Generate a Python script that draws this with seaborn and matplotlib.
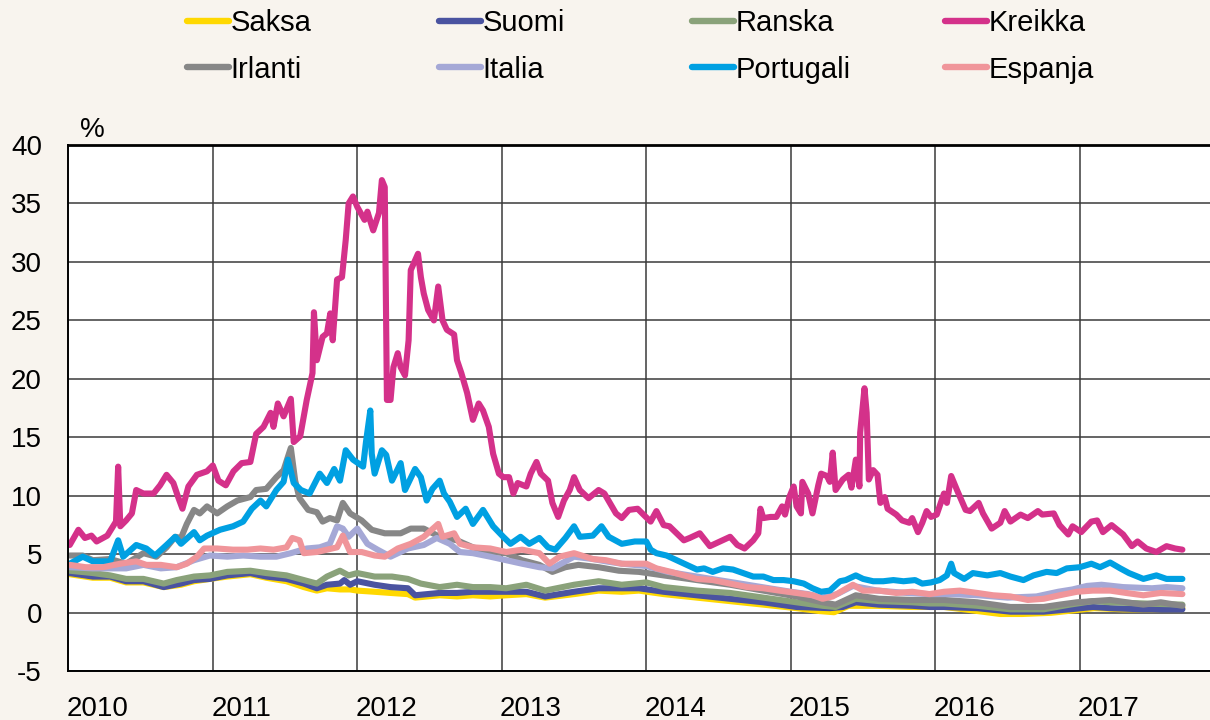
import pandas as pd
import matplotlib.pyplot as plt
import seaborn as sns
from matplotlib.lines import Line2D

# --- Configuration ---
sns.set_theme(style="white")
plt.rcParams['font.family'] = ['Liberation Sans', 'DejaVu Sans']
plt.rcParams.update({
    'axes.unicode_minus': False,
    'text.color': 'black',
    'xtick.color': 'black',
    'ytick.color': 'black',
})

BG = '#F8F4EE'
GRID = '#3a3a3a'

MAAT = ['Saksa', 'Suomi', 'Ranska', 'Kreikka', 'Irlanti', 'Italia', 'Portugali', 'Espanja']
VARIT = ['#FFD800', '#4A53A0', '#8AA27A', '#D4318A', '#878787', '#A5A8D6', '#00A0E2', '#F0959A']

# --- Data: 10-year government bond yields, % ---
saksa_t = [2010.01, 2010.17, 2010.29, 2010.40, 2010.52, 2010.66, 2010.78, 2010.87, 2010.98, 2011.10,
           2011.26, 2011.37, 2011.51, 2011.63, 2011.72, 2011.79, 2011.88, 2011.95, 2012.00, 2012.12,
           2012.23, 2012.35, 2012.40, 2012.57, 2012.69, 2012.80, 2012.92, 2013.03, 2013.17, 2013.30,
           2013.50, 2013.67, 2013.83, 2013.95, 2014.12, 2014.35, 2014.58, 2014.81, 2015.04, 2015.20,
           2015.30, 2015.40, 2015.60, 2015.84, 2015.96, 2016.06, 2016.20, 2016.45, 2016.60, 2016.80,
           2016.95, 2017.10, 2017.30, 2017.50, 2017.71]
saksa = [3.3, 3.0, 3.0, 2.6, 2.6, 2.2, 2.4, 2.7, 2.9, 3.1,
         3.3, 3.0, 2.7, 2.2, 1.9, 2.1, 2.0, 2.0, 1.9, 1.8,
         1.7, 1.6, 1.3, 1.5, 1.4, 1.5, 1.4, 1.5, 1.6, 1.3,
         1.6, 1.9, 1.8, 1.9, 1.6, 1.3, 1.0, 0.7, 0.4, 0.15,
         0.05, 0.6, 0.6, 0.5, 0.5, 0.5, 0.3, -0.1, -0.1, 0.0,
         0.2, 0.4, 0.3, 0.3, 0.4]

suomi_t = [2010.01, 2010.17, 2010.29, 2010.40, 2010.52, 2010.66, 2010.78, 2010.87, 2010.98, 2011.10,
           2011.26, 2011.37, 2011.51, 2011.63, 2011.72, 2011.79, 2011.88, 2011.91, 2011.95, 2012.00,
           2012.12, 2012.23, 2012.35, 2012.40, 2012.57, 2012.69, 2012.80, 2012.92, 2013.03, 2013.17,
           2013.30, 2013.50, 2013.67, 2013.95, 2014.12, 2014.35, 2014.58, 2014.81, 2015.04, 2015.27,
           2015.36, 2015.45, 2015.61, 2015.84, 2015.96, 2016.06, 2016.29, 2016.52, 2016.75, 2016.93,
           2017.09, 2017.21, 2017.44, 2017.71]
suomi = [3.4, 3.1, 3.1, 2.7, 2.7, 2.2, 2.5, 2.8, 2.9, 3.2,
         3.4, 3.1, 2.9, 2.5, 2.1, 2.4, 2.5, 2.8, 2.4, 2.7,
         2.4, 2.2, 2.1, 1.5, 1.7, 1.7, 1.8, 1.8, 1.8, 1.8,
         1.4, 1.8, 2.1, 2.1, 1.8, 1.5, 1.2, 0.9, 0.5, 0.4,
         0.5, 0.9, 0.7, 0.6, 0.5, 0.5, 0.4, 0.1, 0.1, 0.3,
         0.5, 0.4, 0.3, 0.3]

ranska_t = [2010.01, 2010.17, 2010.29, 2010.40, 2010.52, 2010.66, 2010.75, 2010.87, 2010.98, 2011.10,
            2011.26, 2011.37, 2011.51, 2011.63, 2011.72, 2011.79, 2011.88, 2011.94, 2012.00, 2012.12,
            2012.24, 2012.35, 2012.44, 2012.57, 2012.69, 2012.80, 2012.92, 2013.03, 2013.17, 2013.30,
            2013.50, 2013.67, 2013.83, 2014.00, 2014.12, 2014.35, 2014.58, 2014.81, 2015.04, 2015.22,
            2015.31, 2015.45, 2015.61, 2015.84, 2015.96, 2016.06, 2016.29, 2016.52, 2016.75, 2016.93,
            2017.09, 2017.21, 2017.44, 2017.71]
ranska = [3.6, 3.4, 3.2, 2.9, 2.9, 2.5, 2.8, 3.1, 3.2, 3.5,
          3.6, 3.4, 3.2, 2.8, 2.5, 3.1, 3.6, 3.2, 3.4, 3.1,
          3.1, 2.9, 2.5, 2.2, 2.4, 2.2, 2.2, 2.1, 2.4, 1.9,
          2.4, 2.7, 2.4, 2.6, 2.2, 1.9, 1.7, 1.3, 0.9, 0.6,
          0.5, 1.2, 1.0, 0.9, 0.8, 0.8, 0.6, 0.3, 0.3, 0.7,
          1.0, 0.9, 0.8, 0.7]

kreikka_t = [2010.01, 2010.07, 2010.115, 2010.16, 2010.196, 2010.27, 2010.33, 2010.345, 2010.36, 2010.40,
             2010.44, 2010.47, 2010.52, 2010.59, 2010.635, 2010.68, 2010.727, 2010.76, 2010.79, 2010.831,
             2010.89, 2010.96, 2011.00, 2011.039, 2011.09, 2011.143, 2011.20, 2011.26, 2011.30, 2011.351,
             2011.40, 2011.42, 2011.45, 2011.49, 2011.54, 2011.56, 2011.605, 2011.65, 2011.69, 2011.70,
             2011.72, 2011.76, 2011.79, 2011.813, 2011.83, 2011.86, 2011.894, 2011.92, 2011.94, 2011.97,
             2012.00, 2012.05, 2012.07, 2012.11, 2012.15, 2012.17, 2012.19, 2012.205, 2012.23, 2012.25,
             2012.28, 2012.30, 2012.33, 2012.355, 2012.37, 2012.42, 2012.44, 2012.46, 2012.49, 2012.53,
             2012.56, 2012.59, 2012.62, 2012.67, 2012.69, 2012.72, 2012.76, 2012.80, 2012.84, 2012.87,
             2012.91, 2012.94, 2012.98, 2013.01, 2013.05, 2013.08, 2013.11, 2013.17, 2013.20, 2013.24,
             2013.27, 2013.32, 2013.35, 2013.39, 2013.43, 2013.47, 2013.50, 2013.54, 2013.60, 2013.67,
             2013.71, 2013.79, 2013.83, 2013.88, 2013.94, 2013.98, 2014.03, 2014.07, 2014.12, 2014.16,
             2014.21, 2014.26, 2014.30, 2014.37, 2014.44, 2014.51, 2014.58, 2014.63, 2014.68, 2014.74,
             2014.775, 2014.79, 2014.81, 2014.86, 2014.90, 2014.94, 2014.96, 2014.99, 2015.02, 2015.04,
             2015.07, 2015.08, 2015.12, 2015.15, 2015.19, 2015.21, 2015.25, 2015.27, 2015.29, 2015.31,
             2015.36, 2015.40, 2015.42, 2015.45, 2015.475, 2015.48, 2015.51, 2015.525, 2015.54, 2015.57,
             2015.60, 2015.62, 2015.65, 2015.67, 2015.73, 2015.77, 2015.82, 2015.84, 2015.88, 2015.91,
             2015.94, 2015.97, 2016.01, 2016.06, 2016.08, 2016.11, 2016.15, 2016.21, 2016.24, 2016.30,
             2016.33, 2016.39, 2016.45, 2016.48, 2016.52, 2016.59, 2016.64, 2016.71, 2016.74, 2016.82,
             2016.86, 2016.92, 2016.95, 2017.01, 2017.08, 2017.12, 2017.16, 2017.22, 2017.30, 2017.36,
             2017.40, 2017.46, 2017.53, 2017.60, 2017.66, 2017.71]
kreikka = [5.8, 7.1, 6.4, 6.6, 6.1, 6.6, 7.8, 12.5, 7.4, 7.9,
           8.5, 10.5, 10.2, 10.2, 10.9, 11.8, 11.1, 9.9, 8.9, 10.8,
           11.8, 12.1, 12.6, 11.3, 10.9, 12.1, 12.8, 12.9, 15.3, 15.9,
           17.1, 15.9, 17.9, 16.8, 18.3, 14.6, 15.1, 18.2, 20.5, 25.7,
           21.6, 23.6, 23.9, 25.6, 23.3, 28.5, 28.7, 31.9, 35.0, 35.6,
           34.7, 33.6, 34.3, 32.7, 34.2, 37.0, 36.4, 18.2, 18.2, 21.0,
           22.2, 21.0, 20.3, 23.3, 29.3, 30.7, 28.7, 27.3, 25.9, 25.0,
           27.9, 25.0, 24.2, 23.8, 21.6, 20.5, 18.8, 16.5, 17.9, 17.3,
           15.9, 13.6, 11.9, 11.6, 11.6, 10.2, 11.1, 10.8, 11.9, 12.9,
           11.9, 11.3, 9.4, 8.2, 9.6, 10.5, 11.6, 10.5, 9.8, 10.5,
           10.2, 8.5, 8.1, 8.8, 8.9, 8.4, 7.8, 8.7, 7.5, 7.4,
           6.8, 6.2, 6.4, 6.8, 5.7, 6.1, 6.5, 5.8, 5.5, 6.2,
           6.8, 8.9, 8.1, 8.2, 8.2, 9.1, 8.4, 9.9, 10.8, 9.1,
           8.5, 11.2, 10.2, 8.5, 10.9, 11.9, 11.7, 11.2, 13.7, 10.5,
           11.4, 11.8, 10.7, 13.1, 10.8, 15.4, 19.2, 17.1, 11.4, 12.2,
           11.8, 9.4, 9.9, 8.9, 8.4, 7.9, 7.7, 8.1, 6.9, 7.7,
           8.7, 8.2, 8.4, 10.2, 9.4, 11.7, 10.5, 8.8, 8.7, 9.4,
           8.5, 7.2, 7.7, 8.7, 7.8, 8.4, 8.1, 8.7, 8.4, 8.5,
           7.5, 6.7, 7.4, 6.9, 7.8, 7.9, 6.9, 7.5, 6.7, 5.7,
           6.1, 5.5, 5.2, 5.7, 5.5, 5.4]

irlanti_t = [2010.01, 2010.10, 2010.17, 2010.29, 2010.40, 2010.52, 2010.61, 2010.68, 2010.74, 2010.78,
             2010.82, 2010.87, 2010.91, 2010.96, 2011.03, 2011.10, 2011.17, 2011.26, 2011.30, 2011.37,
             2011.44, 2011.49, 2011.54, 2011.57, 2011.60, 2011.66, 2011.72, 2011.76, 2011.81, 2011.86,
             2011.90, 2011.95, 2012.03, 2012.10, 2012.19, 2012.30, 2012.37, 2012.46, 2012.57, 2012.69,
             2012.80, 2012.92, 2013.03, 2013.14, 2013.26, 2013.35, 2013.44, 2013.53, 2013.67, 2013.81,
             2013.95, 2014.12, 2014.35, 2014.58, 2014.81, 2015.04, 2015.22, 2015.31, 2015.45, 2015.61,
             2015.84, 2016.06, 2016.29, 2016.52, 2016.75, 2016.86, 2016.98, 2017.21, 2017.44, 2017.56,
             2017.71]
irlanti = [4.9, 4.9, 4.5, 4.6, 4.2, 5.1, 4.8, 5.6, 6.5, 6.4,
           7.6, 8.8, 8.5, 9.1, 8.5, 9.1, 9.6, 9.9, 10.5, 10.6,
           11.6, 12.2, 14.1, 11.3, 9.8, 8.8, 8.6, 7.8, 8.1, 7.9,
           9.4, 8.5, 7.9, 7.1, 6.8, 6.8, 7.2, 7.2, 6.5, 6.2,
           5.6, 5.2, 5.1, 4.5, 4.1, 3.5, 3.9, 4.1, 3.9, 3.6,
           3.5, 3.2, 2.8, 2.4, 1.9, 1.4, 0.9, 0.7, 1.5, 1.2,
           1.1, 1.1, 0.9, 0.5, 0.5, 0.7, 0.9, 1.1, 0.7, 0.9,
           0.6]

italia_t = [2010.01, 2010.17, 2010.29, 2010.40, 2010.52, 2010.64, 2010.75, 2010.87, 2010.98, 2011.10,
            2011.21, 2011.33, 2011.44, 2011.54, 2011.65, 2011.74, 2011.81, 2011.86, 2011.90, 2011.94,
            2012.00, 2012.07, 2012.14, 2012.23, 2012.35, 2012.46, 2012.55, 2012.64, 2012.71, 2012.80,
            2012.92, 2013.03, 2013.14, 2013.26, 2013.35, 2013.50, 2013.63, 2013.72, 2013.83, 2014.00,
            2014.15, 2014.30, 2014.45, 2014.60, 2014.80, 2015.00, 2015.12, 2015.22, 2015.32, 2015.43,
            2015.60, 2015.80, 2015.95, 2016.10, 2016.30, 2016.50, 2016.70, 2016.85, 2016.95, 2017.05,
            2017.15, 2017.30, 2017.50, 2017.60, 2017.71]
italia = [3.9, 3.8, 3.8, 3.8, 4.1, 3.8, 3.9, 4.5, 4.9, 4.8,
          4.9, 4.8, 4.8, 5.1, 5.5, 5.6, 5.9, 7.4, 7.2, 6.5,
          7.2, 5.9, 5.4, 4.8, 5.5, 5.8, 6.4, 5.9, 5.2, 5.1,
          4.8, 4.5, 4.2, 3.9, 3.8, 4.8, 4.6, 4.4, 4.2, 4.0,
          3.5, 3.2, 2.9, 2.6, 2.2, 1.8, 1.6, 1.3, 1.6, 2.3,
          1.9, 1.7, 1.6, 1.6, 1.5, 1.3, 1.4, 1.8, 2.0, 2.3,
          2.4, 2.2, 2.1, 2.2, 2.1]

portugali_t = [2010.01, 2010.10, 2010.17, 2010.29, 2010.345, 2010.38, 2010.47, 2010.54, 2010.60, 2010.68,
               2010.74, 2010.78, 2010.87, 2010.91, 2010.96, 2011.05, 2011.14, 2011.21, 2011.27, 2011.33,
               2011.37, 2011.44, 2011.49, 2011.52, 2011.56, 2011.61, 2011.67, 2011.74, 2011.79, 2011.84,
               2011.88, 2011.92, 2011.97, 2012.04, 2012.06, 2012.09, 2012.10, 2012.12, 2012.17, 2012.20,
               2012.24, 2012.30, 2012.33, 2012.40, 2012.44, 2012.48, 2012.52, 2012.57, 2012.60, 2012.64,
               2012.69, 2012.75, 2012.80, 2012.87, 2012.94, 2013.01, 2013.06, 2013.13, 2013.19, 2013.26,
               2013.32, 2013.37, 2013.44, 2013.50, 2013.54, 2013.63, 2013.69, 2013.74, 2013.83, 2013.92,
               2014.00, 2014.03, 2014.07, 2014.14, 2014.21, 2014.28, 2014.35, 2014.40, 2014.46, 2014.53,
               2014.60, 2014.67, 2014.74, 2014.81, 2014.88, 2014.95, 2015.02, 2015.09, 2015.15, 2015.21,
               2015.27, 2015.34, 2015.38, 2015.45, 2015.50, 2015.57, 2015.64, 2015.71, 2015.78, 2015.86,
               2015.91, 2015.97, 2016.03, 2016.08, 2016.11, 2016.13, 2016.20, 2016.26, 2016.36, 2016.45,
               2016.52, 2016.61, 2016.68, 2016.77, 2016.84, 2016.91, 2017.00, 2017.08, 2017.14, 2017.21,
               2017.28, 2017.34, 2017.44, 2017.53, 2017.60, 2017.71]
portugali = [4.2, 4.8, 4.4, 4.4, 6.2, 4.8, 5.8, 5.5, 4.9, 5.8,
             6.5, 5.9, 6.9, 6.2, 6.6, 7.1, 7.4, 7.8, 8.9, 9.6,
             9.1, 10.5, 11.2, 13.1, 11.1, 10.5, 10.2, 11.9, 11.1, 12.3,
             11.3, 13.9, 13.1, 12.5, 14.6, 17.3, 13.6, 11.9, 13.9, 13.5,
             11.3, 12.8, 10.5, 12.3, 11.6, 9.6, 10.6, 11.3, 10.2, 9.5,
             8.2, 8.9, 7.6, 8.8, 7.4, 6.5, 5.9, 6.5, 5.9, 6.4,
             5.6, 5.4, 6.4, 7.4, 6.5, 6.6, 7.4, 6.5, 5.9, 6.1,
             6.1, 5.4, 5.1, 4.9, 4.5, 4.1, 3.7, 3.8, 3.5, 3.8,
             3.7, 3.4, 3.1, 3.1, 2.8, 2.8, 2.7, 2.5, 2.1, 1.8,
             1.9, 2.7, 2.8, 3.2, 2.9, 2.7, 2.7, 2.8, 2.7, 2.8,
             2.5, 2.6, 2.8, 3.2, 4.2, 3.4, 2.9, 3.4, 3.2, 3.4,
             3.1, 2.8, 3.2, 3.5, 3.4, 3.8, 3.9, 4.2, 3.9, 4.3,
             3.8, 3.4, 2.9, 3.2, 2.9, 2.9]

espanja_t = [2010.01, 2010.12, 2010.24, 2010.36, 2010.47, 2010.54, 2010.64, 2010.75, 2010.82, 2010.89,
             2010.94, 2011.03, 2011.14, 2011.24, 2011.33, 2011.42, 2011.51, 2011.55, 2011.60, 2011.63,
             2011.72, 2011.79, 2011.86, 2011.90, 2011.95, 2012.03, 2012.12, 2012.19, 2012.28, 2012.37,
             2012.46, 2012.56, 2012.59, 2012.67, 2012.71, 2012.80, 2012.92, 2013.03, 2013.14, 2013.26,
             2013.33, 2013.40, 2013.50, 2013.63, 2013.72, 2013.83, 2014.00, 2014.07, 2014.17, 2014.26,
             2014.35, 2014.46, 2014.58, 2014.70, 2014.81, 2014.92, 2015.04, 2015.15, 2015.22, 2015.29,
             2015.36, 2015.43, 2015.50, 2015.61, 2015.73, 2015.84, 2015.96, 2016.06, 2016.17, 2016.29,
             2016.40, 2016.52, 2016.64, 2016.75, 2016.86, 2016.98, 2017.09, 2017.21, 2017.32, 2017.44,
             2017.56, 2017.71]
espanja = [4.1, 3.9, 3.9, 4.2, 4.4, 4.1, 4.1, 3.9, 4.2, 4.8,
           5.5, 5.5, 5.4, 5.4, 5.5, 5.4, 5.6, 6.4, 6.2, 5.1,
           5.2, 5.4, 5.6, 6.6, 5.2, 5.2, 4.9, 4.8, 5.5, 5.9,
           6.5, 7.6, 6.5, 6.8, 5.9, 5.6, 5.5, 5.2, 5.4, 5.1,
           4.2, 4.8, 5.1, 4.6, 4.5, 4.2, 4.2, 3.8, 3.5, 3.2,
           2.9, 2.8, 2.5, 2.2, 2.1, 1.9, 1.7, 1.5, 1.2, 1.4,
           1.9, 2.4, 1.9, 1.9, 1.7, 1.8, 1.6, 1.8, 1.9, 1.7,
           1.5, 1.4, 1.1, 1.2, 1.5, 1.8, 1.9, 1.9, 1.7, 1.5,
           1.7, 1.6]

VUODET = [2010, 2011, 2012, 2013, 2014, 2015, 2016, 2017]


def build_frame():
    """Long-format table for seaborn."""
    series = [
        ('Saksa', saksa_t, saksa), ('Suomi', suomi_t, suomi), ('Ranska', ranska_t, ranska),
        ('Kreikka', kreikka_t, kreikka), ('Irlanti', irlanti_t, irlanti), ('Italia', italia_t, italia),
        ('Portugali', portugali_t, portugali), ('Espanja', espanja_t, espanja),
    ]
    parts = [pd.DataFrame({'vuosi': t, 'korko': v, 'maa': name}) for name, t, v in series]
    return pd.concat(parts, ignore_index=True)


def create_plot():
    df = build_frame()
    palette = dict(zip(MAAT, VARIT))

    W, H = 1210, 720
    fig = plt.figure(figsize=(W / 100, H / 100), dpi=100, facecolor=BG)
    # axes box in pixel terms: left 68, top 145, bottom 671, runs to right edge
    ax = fig.add_axes([68.3 / W, 1 - 671.3 / H, (W - 68.3) / W, (671.3 - 145.0) / H])
    ax.set_facecolor('white')

    sns.lineplot(data=df, x='vuosi', y='korko', hue='maa', hue_order=MAAT, palette=palette,
                 estimator=None, sort=False, linewidth=4.4, legend=False, ax=ax)

    ax.set_xlim(2010.0, 2010.0 + (W - 68.3) / 144.5)
    ax.set_ylim(-5, 40)
    ax.set_yticks(range(-5, 41, 5))
    ax.set_xticks(VUODET[1:])
    ax.set_xticklabels([])
    ax.set_xticks([y + 0.2 for y in VUODET], minor=True)
    ax.set_xticklabels([str(y) for y in VUODET], minor=True)
    ax.set_xlabel('')
    ax.set_ylabel('')

    ax.grid(True, which='major', color=GRID, linewidth=1.1)
    ax.tick_params(axis='both', which='both', length=0, labelsize=20, colors='black')
    ax.tick_params(axis='y', pad=19)
    ax.tick_params(axis='x', which='minor', pad=18)

    for side in ['left', 'top', 'bottom']:
        ax.spines[side].set_visible(True)
        ax.spines[side].set_color('black')
        ax.spines[side].set_linewidth(1.4)
    ax.spines['top'].set_linewidth(2.0)
    ax.spines['right'].set_visible(False)

    fig.text(92.5 / W, 1 - 130 / H, '%', ha='center', va='center', fontsize=20, color='black')

    # Legend: four columns, two rows, columns at fixed positions
    col_x = [187, 439, 692, 945]
    for i, x in enumerate(col_x):
        names = [MAAT[i], MAAT[i + 4]]
        handles = [Line2D([], [], color=palette[n], linewidth=4.6, solid_capstyle='round') for n in names]
        leg = fig.legend(handles, names, loc='center left', bbox_to_anchor=(x / W, 1 - 46.5 / H),
                         frameon=False, fontsize=21, handlelength=1.45, handletextpad=0.05,
                         labelspacing=0.62, borderpad=0, borderaxespad=0)
        for txt in leg.get_texts():
            txt.set_color('black')

    fig.savefig('out.png', dpi=100, facecolor=BG)


if __name__ == "__main__":
    create_plot()
